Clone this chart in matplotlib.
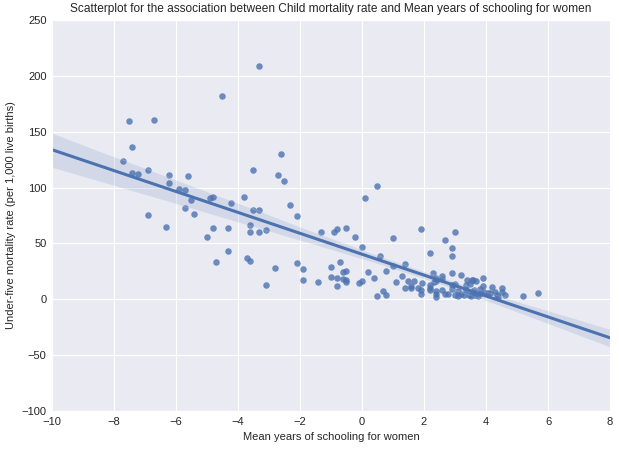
import numpy as np
import pandas as pd
import matplotlib
matplotlib.use("Agg")
import matplotlib.pyplot as plt
import seaborn as sns

# mean years of schooling for women (centred)
schooling = [
    -3.31, -4.51, -7.51, -6.70, -7.41, -7.70, -7.41, -7.22, -6.89, -6.22,
    -6.22, -5.60, -5.89, -5.70, -5.51, -5.70, -5.41, -6.89, -6.31, -5.00,
    -4.80, -4.89, -4.80, -4.31, -4.22, -3.80, -3.51, -2.60, -2.70, -2.51,
    -2.31, -2.09, -3.51, -3.31, -3.60, -3.60, -3.31, -3.09, 0.49, 0.11,
    -1.32, -0.89, -0.80, -0.51, -0.22, 0.01, 1.01, 0.59, -4.31, -4.70,
    -3.70, -3.60, -2.80, -2.09, -1.89, -1.89, -3.09, -1.41, -0.99, -0.99,
    -0.80, -0.80, -0.70, -0.60, -0.51, -0.60, -0.51, -0.51, -0.09, 0.01,
    0.20, 0.40, 0.78, 1.11, 0.49, 0.69, 0.78, 0.99, 1.91, 2.69,
    2.20, 1.40, 1.30, 1.49, 1.69, 1.40, 1.59, 1.59, 1.79, 1.91,
    1.91, 1.94, 3.00, 2.91, 2.91, 2.20, 2.20, 2.20, 2.30, 2.40,
    2.40, 2.33, 2.59, 2.59, 2.40, 2.40, 2.40, 2.59, 2.69, 2.78,
    2.91, 2.91, 3.00, 3.20, 3.40, 3.49, 3.59, 3.69, 3.91, 3.91,
    5.20, 5.69, 4.18, 4.13, 4.29, 4.34, 4.51, 4.51, 4.61, 4.40,
    2.89, 3.37, 3.54, 3.00, 3.10, 3.20, 3.30, 3.45, 3.55, 3.65,
    3.75, 3.85, 3.95, 3.10, 3.35, 3.60, 3.50, 3.80, 4.08,
]

# under-five mortality rate (per 1,000 live births)
mortality = [
    208.6, 181.7, 159.3, 160.2, 136.0, 123.5, 112.8, 111.9, 115.4, 111.0,
    103.8, 110.1, 98.4, 97.5, 88.6, 81.4, 76.0, 75.2, 64.4, 55.5,
    63.5, 90.4, 91.3, 63.5, 86.4, 91.3, 115.4, 129.8, 111.0, 105.6,
    84.1, 74.3, 79.6, 79.6, 66.2, 59.9, 59.9, 61.7, 101.1, 90.4,
    59.9, 59.9, 62.6, 63.5, 55.5, 46.5, 54.6, 38.5, 42.9, 33.1,
    36.7, 34.0, 27.7, 32.2, 26.8, 16.9, 12.5, 15.2, 28.6, 19.6,
    18.8, 11.6, 33.1, 24.1, 25.0, 17.9, 17.0, 15.2, 14.3, 16.1,
    24.1, 18.8, 25.0, 15.2, 2.6, 7.1, 3.5, 29.8, 62.6, 52.8,
    41.2, 31.3, 20.5, 16.1, 16.1, 9.8, 9.8, 11.6, 9.8, 8.0,
    4.4, 14.8, 59.9, 45.6, 38.5, 12.5, 9.8, 8.0, 23.2, 18.8,
    16.1, 15.2, 20.5, 17.9, 7.1, 4.4, 1.7, 8.0, 4.4, 4.4,
    23.2, 8.9, 13.4, 21.4, 17.0, 13.4, 17.0, 16.1, 18.8, 11.6,
    2.6, 5.3, 11.3, 5.3, 6.8, 3.8, 9.8, 6.8, 3.8, 2.3,
    12.8, 12.8, 17.3, 4.0, 3.0, 5.0, 4.0, 3.5, 5.0, 4.0,
    3.0, 5.5, 6.5, 7.5, 8.0, 8.5, 2.5, 9.0, 5.3,
]

df = pd.DataFrame({"school": schooling, "u5mr": mortality})

sns.set_style("darkgrid")
plt.rcParams["font.family"] = ["Liberation Sans", "DejaVu Sans"]

fig = plt.figure(figsize=(6.19, 4.5), dpi=100)
ax = fig.add_axes([0.084, 0.0867, 0.9015, 0.869])
ax.set_xlim(-10, 8)
ax.set_ylim(-100, 250)

sns.regplot(x="school", y="u5mr", data=df, ax=ax, truncate=False, seed=0,
            color="#4C72B0", scatter_kws={"s": 22, "alpha": 0.8, "linewidths": 0},
            line_kws={"lw": 2.2})

ax.set_xlim(-10, 8)
ax.set_ylim(-100, 250)
ax.set_xticks(np.arange(-10, 9, 2))
ax.set_yticks(np.arange(-100, 251, 50))
ax.tick_params(labelsize=8, colors=".15", length=0, pad=4)
ax.set_xlabel("Mean years of schooling for women", fontsize=8, color=".15")
ax.set_ylabel("Under-five mortality rate (per 1,000 live births)", fontsize=8, color=".15")
ax.set_title("Scatterplot for the association between Child mortality rate and Mean years of schooling for women",
             fontsize=8.6, color=".15")

fig.savefig("out.png", dpi=100)
